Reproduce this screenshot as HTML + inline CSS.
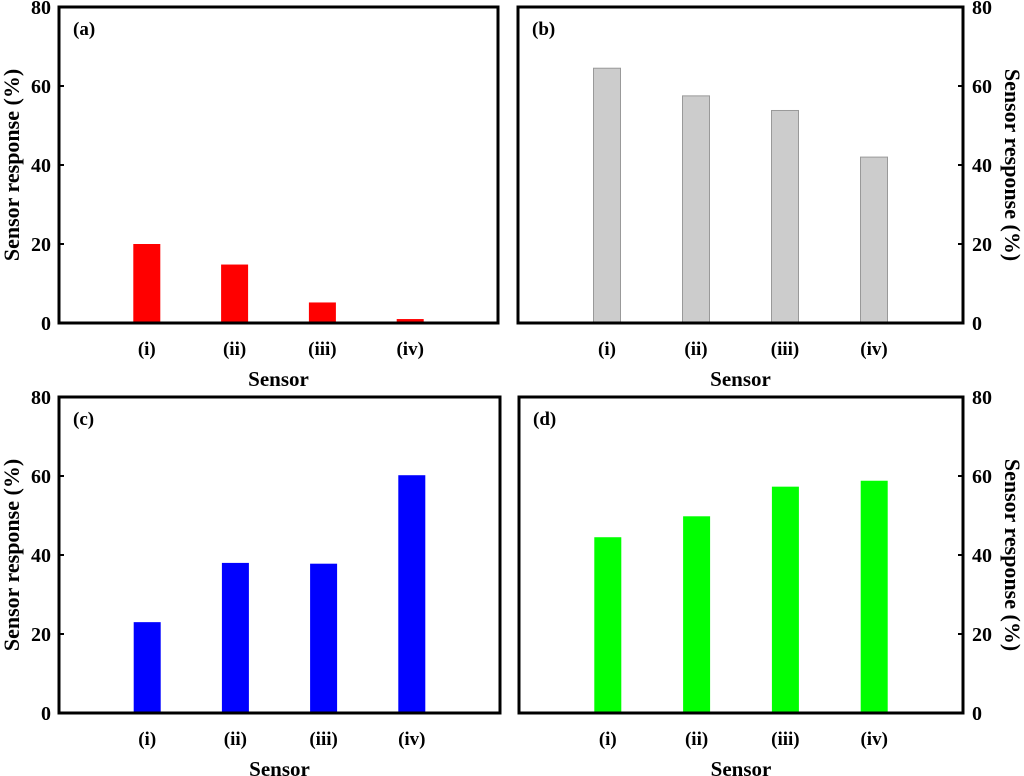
<!DOCTYPE html>
<html><head><meta charset="utf-8"><style>
body{margin:0;background:#fff}
svg{display:block;font-family:"Liberation Serif",serif;font-weight:bold}
</style></head><body>
<svg id="c" width="1024" height="776"></svg>
<script>
const categories=["(i)","(ii)","(iii)","(iv)"];
const valuesA=[20,14.8,5.2,1];
const valuesB=[64.5,57.5,53.8,42];
const valuesC=[23,38,37.8,60.2];
const valuesD=[44.5,49.8,57.3,58.8];
const yTicks=[0,20,40,60,80];
const panels=[
 {id:"a",vals:valuesA,x0:59,x1:498,y0:7,y1:323,fill:"#ff0000",stroke:"none",right:false},
 {id:"b",vals:valuesB,x0:518,x1:963,y0:7,y1:323,fill:"#cccccc",stroke:"#999",right:true},
 {id:"c",vals:valuesC,x0:59,x1:500,y0:397,y1:713,fill:"#0000ff",stroke:"none",right:false},
 {id:"d",vals:valuesD,x0:519,x1:963,y0:397,y1:713,fill:"#00ff00",stroke:"none",right:true}
];
const NS="http://www.w3.org/2000/svg";
const svg=document.getElementById('c');
function mk(t,a,p){const e=document.createElementNS(NS,t);for(const k in a)e.setAttribute(k,a[k]);(p||svg).appendChild(e);return e;}
panels.forEach(P=>{
 const g=mk('g',{});
 
 
 const w=P.x1-P.x0;
 const xs=i=>P.x0+w*(0.2+0.2*i);
 const ys=v=>P.y1-(v/80)*(P.y1-P.y0);
 P.vals.forEach((v,i)=>{
  const r=mk('rect',{x:xs(i)-13.5,y:ys(v),width:27,height:ys(0)-ys(v),fill:P.fill,stroke:P.stroke},g);
  
  
  const t=mk('text',{x:xs(i),y:P.y1+32,'text-anchor':'middle','font-size':19},g);
  t.textContent=categories[i];
  
  
 });
 yTicks.forEach(v=>{
  const y=ys(v);
  const tx=P.right?P.x1:P.x0;
  mk('line',{x1:tx,x2:P.right?tx-5:tx+5,y1:y,y2:y,stroke:'#000','stroke-width':2},g);
  const t=mk('text',{x:P.right?P.x1+9:P.x0-8,y:y+7,'text-anchor':P.right?'start':'end','font-size':20},g);
  t.textContent=v;
  
  
 });
 const fr=mk('rect',{x:P.x0,y:P.y0,width:w,height:P.y1-P.y0,fill:'none',stroke:'#000','stroke-width':3},g);
 
 
 const lb=mk('text',{x:P.x0+14,y:P.y0+28,'font-size':19},g);
 lb.textContent='('+P.id+')';
 
 
 const xt=mk('text',{x:(P.x0+P.x1)/2,y:P.y1+63,'text-anchor':'middle','font-size':21},g);
 xt.textContent='Sensor';
 
 
 const cy=(P.y0+P.y1)/2;
 const cx=P.right?1010:14;
 const yt=mk('text',{x:cx,y:cy,'text-anchor':'middle','font-size':22,transform:`rotate(${P.right?90:-90} ${cx} ${cy})`,'dominant-baseline':'middle'},g);
 yt.textContent='Sensor response (%)';
 
 
});
</script>
</body></html>
